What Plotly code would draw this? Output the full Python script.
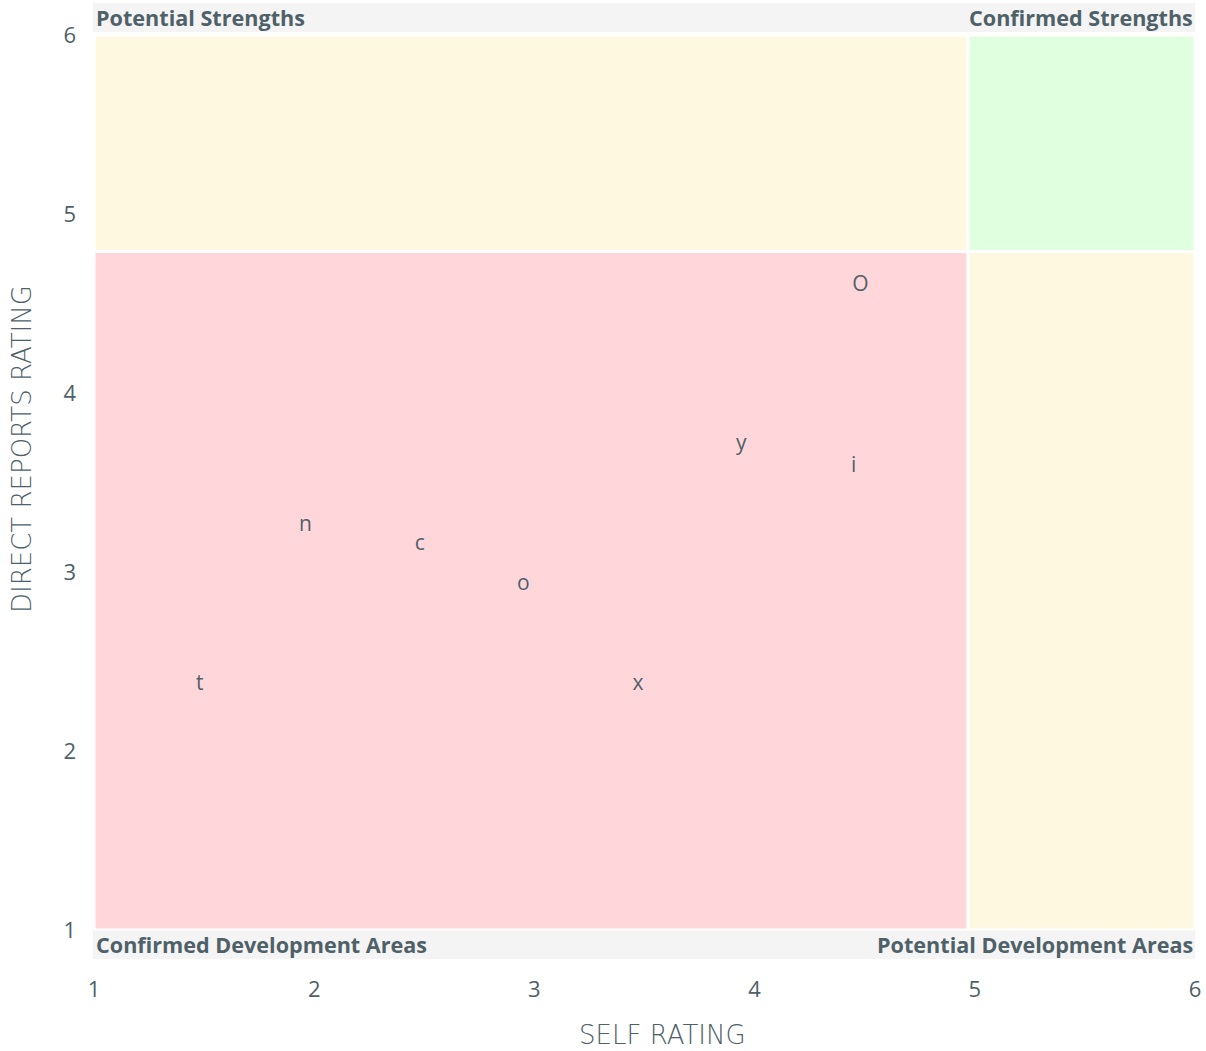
import plotly.graph_objects as go

# Data
labels = ["t", "n", "c", "o", "x", "y", "i", "O"]
self_rating = [1.48, 1.96, 2.48, 2.95, 3.47, 3.94, 4.45, 4.48]
direct_reports_rating = [2.37, 3.26, 3.15, 2.93, 2.37, 3.71, 3.59, 4.60]

x_threshold = 4.97
y_threshold = 4.79
axis_min, axis_max = 1, 6
tick_vals = [1, 2, 3, 4, 5, 6]

zone_labels = ["Potential Strengths", "Confirmed Strengths",
               "Confirmed Development Areas", "Potential Development Areas"]
x_title = "SELF RATING"
y_title = "DIRECT REPORTS RATING"

TEXT = "#4f6168"
FONT = "Open Sans"
TITLE_FONT = "DejaVu Sans"

fig = go.Figure()
fig.add_trace(go.Scatter(
    x=self_rating, y=direct_reports_rating, text=labels,
    mode="text", textposition="middle center",
    textfont=dict(family=FONT, size=21, color=TEXT),
    hoverinfo="skip", showlegend=False,
))

shapes = []
def zone(x0, x1, y0, y1, color):
    shapes.append(dict(type="rect", xref="x", yref="y", x0=x0, x1=x1, y0=y0, y1=y1,
                       fillcolor=color, line=dict(color="white", width=3), layer="below"))

zone(axis_min, x_threshold, axis_min, y_threshold, "#ffd7db")
zone(axis_min, x_threshold, y_threshold, axis_max, "#fef8e0")
zone(x_threshold, axis_max, y_threshold, axis_max, "#e0ffdf")
zone(x_threshold, axis_max, axis_min, y_threshold, "#fef8e0")

# grey label bands above and below the plot
shapes.append(dict(type="rect", xref="paper", yref="paper", x0=-0.001, x1=1.0,
                   y0=1.0034, y1=1.0358, fillcolor="#f4f4f4", line=dict(width=0), layer="below"))
shapes.append(dict(type="rect", xref="paper", yref="paper", x0=-0.001, x1=1.0,
                   y0=-0.0324, y1=-0.0005, fillcolor="#f4f4f4", line=dict(width=0), layer="below"))

annotations = []
for txt, x, xa, y in [(zone_labels[0], 0, "left", 1.0190),
                      (zone_labels[1], 1, "right", 1.0190),
                      (zone_labels[2], 0, "left", -0.0160),
                      (zone_labels[3], 1, "right", -0.0160)]:
    annotations.append(dict(text="<b>" + txt + "</b>", xref="paper", yref="paper", x=x, y=y,
                            xanchor=xa, yanchor="middle", showarrow=False,
                            font=dict(family=FONT, size=21.6, color=TEXT)))

# axis titles (placed as in the reference, slightly off-centre)
annotations.append(dict(text=x_title, xref="paper", yref="paper", x=(662 - 94) / 1101,
                        y=-(1035 - 930) / 895, xanchor="center", yanchor="middle",
                        showarrow=False, font=dict(family=TITLE_FONT, size=26, color=TEXT, weight=300)))
annotations.append(dict(text=y_title, xref="paper", yref="paper", x=-(94 - 22) / 1101,
                        y=(930 - 449) / 895, xanchor="center", yanchor="middle", textangle=-90,
                        showarrow=False, font=dict(family=TITLE_FONT, size=26, color=TEXT, weight=300)))

fig.update_layout(
    width=1206, height=1051,
    margin=dict(l=94, r=11, t=35, b=121),
    plot_bgcolor="white", paper_bgcolor="white",
    shapes=shapes, annotations=annotations,
    xaxis=dict(range=[axis_min, axis_max], tickvals=tick_vals, showgrid=False, zeroline=False,
               showline=False, ticks="", ticklabelstandoff=44, automargin=False,
               tickfont=dict(family=FONT, size=22, color=TEXT)),
    yaxis=dict(range=[axis_min, axis_max], tickvals=tick_vals, showgrid=False, zeroline=False,
               showline=False, ticks="", ticklabelstandoff=17, automargin=False,
               tickfont=dict(family=FONT, size=22, color=TEXT)),
)

fig.write_html("out.html", config={"displayModeBar": False},
               post_script="document.body.style.margin='0';")
